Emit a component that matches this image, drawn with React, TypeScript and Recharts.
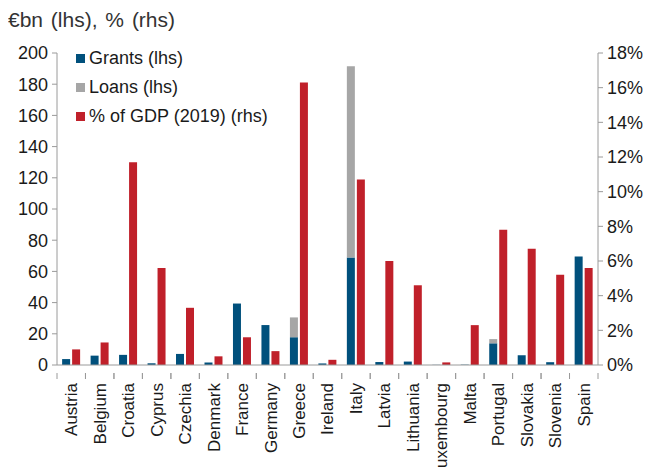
import React from "react";
import { BarChart, Bar, XAxis, YAxis } from "recharts";

const countries = ["Austria","Belgium","Croatia","Cyprus","Czechia","Denmark","France","Germany","Greece","Ireland","Italy","Latvia","Lithuania","Luxembourg","Malta","Portugal","Slovakia","Slovenia","Spain"];
const grants = [3.8,6.0,6.5,1.1,7.1,1.6,39.4,25.6,17.8,1.0,68.9,1.9,2.2,0.1,0.2,13.9,6.3,1.8,69.5];
const loans = [0,0,0,0,0,0,0,0,12.7,0,122.6,0,0,0,0,2.7,0,0,0];
const gdpShare = [0.9,1.3,11.7,5.6,3.3,0.5,1.6,0.8,16.3,0.3,10.7,6.0,4.6,0.15,2.3,7.8,6.7,5.2,5.6];
const leftTicks = [0,20,40,60,80,100,120,140,160,180,200];
const rightTicks = [0,2,4,6,8,10,12,14,16,18];

const data = countries.map((c, i) => ({ country: c, grants: grants[i], loans: loans[i], gdp: gdpShare[i] }));

const BLUE = "#00507C";
const GREY = "#A6A6A6";
const RED = "#C0202A";
const AXIS = "#9a9a9a";
const FONT = "'Liberation Sans', Arial, sans-serif";

const W = 643;
const H = 460;
const LEFTW = 49;
const RIGHTW = 53;
const band = (W - LEFTW - RIGHTW) / countries.length;

const XTick = (props: any) => {
  const { x, y, payload } = props;
  return (
    <g transform={`translate(${x},${y})`}>
      <line x1={-band / 2} x2={-band / 2} y1={0} y2={6} stroke={AXIS} />
      <line x1={band / 2} x2={band / 2} y1={0} y2={6} stroke={AXIS} />
      <text transform="rotate(-90)" x={-10} y={0} dy="0.35em" textAnchor="end" fill="#1a1a1a" fontSize={17} fontFamily={FONT}>
        {payload.value}
      </text>
    </g>
  );
};

const legendItems = [
  { label: "Grants (lhs)", color: BLUE },
  { label: "Loans (lhs)", color: GREY },
  { label: "% of GDP (2019) (rhs)", color: RED },
];

export default function App() {
  return (
    <div style={{ position: "relative", width: W, height: H }}>
      <BarChart
        width={W}
        height={H}
        data={data}
        margin={{ top: 45, right: 0, left: 0, bottom: 0 }}
        barCategoryGap="18%"
        barGap={2}
        style={{ fontFamily: FONT }}
      >
        <XAxis
          dataKey="country"
          xAxisId="x"
          interval={0}
          height={103}
          tick={<XTick />}
          tickLine={false}
          axisLine={{ stroke: AXIS }}
        />
        <YAxis
          yAxisId="left"
          orientation="left"
          domain={[0, 200]}
          ticks={leftTicks}
          width={LEFTW}
          tick={{ fill: "#1a1a1a", fontSize: 18 }}
          tickLine={{ stroke: AXIS }}
          tickSize={5}
          tickMargin={4}
          axisLine={{ stroke: AXIS }}
        />
        <YAxis
          yAxisId="right"
          orientation="right"
          domain={[0, 18]}
          ticks={rightTicks}
          width={RIGHTW}
          tickFormatter={(v: number) => `${v}%`}
          tick={{ fill: "#1a1a1a", fontSize: 18 }}
          tickLine={{ stroke: AXIS }}
          tickSize={5}
          tickMargin={4}
          axisLine={{ stroke: AXIS }}
        />
        <Bar dataKey="grants" xAxisId="x" yAxisId="left" stackId="a" fill={BLUE} isAnimationActive={false} />
        <Bar dataKey="loans" xAxisId="x" yAxisId="left" stackId="a" fill={GREY} isAnimationActive={false} />
        <Bar dataKey="gdp" xAxisId="x" yAxisId="right" fill={RED} isAnimationActive={false} />
      </BarChart>
      <div style={{ position: "absolute", left: 0, top: 0, fontFamily: FONT, fontSize: 21, wordSpacing: 2, color: "#333", whiteSpace: "nowrap", zIndex: 5, lineHeight: "24px" }}>
        €bn (lhs), % (rhs)
      </div>
      <div style={{ position: "absolute", left: 68, top: 36, fontFamily: FONT, fontSize: 18, color: "#1a1a1a", zIndex: 5 }}>
        {legendItems.map((it) => (
          <div key={it.label} style={{ display: "flex", alignItems: "center", height: 29, whiteSpace: "nowrap" }}>
            <span style={{ width: 9, height: 9, background: it.color, display: "inline-block", marginRight: 4 }} />
            <span>{it.label}</span>
          </div>
        ))}
      </div>
    </div>
  );
}
